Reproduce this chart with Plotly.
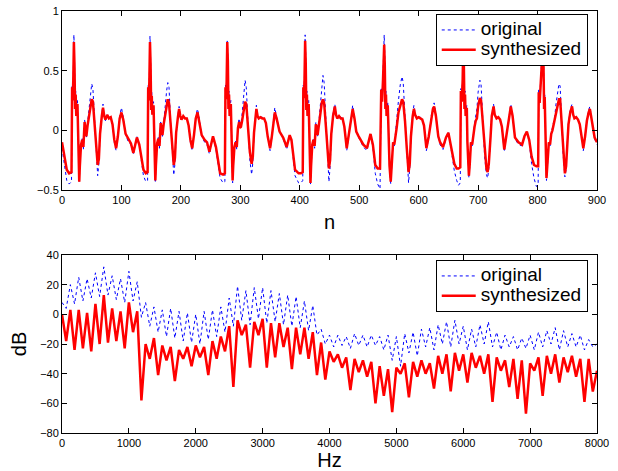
import plotly.graph_objects as go

# ---------------- top panel: time signal (vertices) ----------------
n_pre = [0, 4, 8, 12, 16, 17, 18, 19]
syn_pre = [-0.10, -0.22, -0.33, -0.36, -0.35, 0.36, 0.25, 0.42]
orig_pre = [-0.15, -0.28, -0.42, -0.45, -0.43, 0.38, 0.27, 0.45]

n_p1 = [20, 21, 22, 23, 24, 26, 27, 29, 30, 32, 34, 36, 38, 40, 41, 43, 45, 48, 50, 52,
        55, 58, 60, 62, 64, 67, 69, 71, 73, 76, 79, 82, 85, 88, 91, 94, 97, 100, 103, 107,
        112, 116, 120, 126, 130, 137, 141, 144, 145, 146, 147]
syn_p1 = [0.74, 0.55, 0.18, 0.30, 0.12, 0.22, -0.05, -0.43, -0.30, -0.12, -0.08, -0.14, 0.07, 0.00, -0.05,
          0.04, 0.10, 0.22, 0.26, 0.24, 0.05, -0.20, -0.29, -0.24, -0.03, 0.12, 0.19, 0.12, 0.09, 0.13,
          0.10, 0.11, 0.05, -0.08, -0.15, -0.05, 0.10, 0.15, 0.09, -0.03, -0.08, -0.11, -0.19, -0.06, -0.12,
          -0.33, -0.36, -0.35, 0.36, 0.25, 0.42]
orig_p1 = [0.80, 0.62, 0.20, 0.33, 0.14, 0.25, -0.05, -0.44, -0.32, -0.12, -0.07, -0.16, 0.09, 0.01, -0.06,
           0.06, 0.15, 0.32, 0.39, 0.35, 0.06, -0.26, -0.38, -0.28, -0.05, 0.14, 0.22, 0.12, 0.08, 0.13,
           0.11, 0.11, 0.05, -0.10, -0.17, -0.06, 0.12, 0.19, 0.11, -0.04, -0.10, -0.12, -0.20, -0.05, -0.13,
           -0.38, -0.43, -0.42, 0.38, 0.27, 0.45]

n_p2 = [148, 149, 150, 151, 152, 154, 155, 157, 158, 160, 162, 164, 166, 168, 169, 171, 173, 176, 178, 180,
        183, 186, 188, 190, 192, 195, 197, 199, 201, 204, 207, 210, 213, 216, 219, 222, 225, 228, 231, 235,
        240, 244, 248, 254, 259, 266, 271, 274, 275, 276, 277]
syn_p2 = [0.74, 0.56, 0.17, 0.29, 0.13, 0.21, -0.06, -0.42, -0.29, -0.11, -0.07, -0.13, 0.06, 0.01, -0.04,
          0.05, 0.11, 0.22, 0.26, 0.23, 0.04, -0.19, -0.29, -0.23, -0.02, 0.11, 0.18, 0.12, 0.09, 0.12,
          0.10, 0.10, 0.04, -0.08, -0.15, -0.04, 0.10, 0.15, 0.08, -0.04, -0.08, -0.10, -0.18, -0.05, -0.14,
          -0.36, -0.37, -0.36, 0.36, 0.26, 0.41]
orig_p2 = [0.79, 0.61, 0.19, 0.32, 0.15, 0.24, -0.06, -0.44, -0.31, -0.11, -0.06, -0.15, 0.08, 0.02, -0.05,
           0.07, 0.16, 0.33, 0.40, 0.36, 0.05, -0.27, -0.375, -0.28, -0.04, 0.13, 0.20, 0.12, 0.08, 0.12,
           0.11, 0.10, 0.04, -0.10, -0.17, -0.05, 0.12, 0.18, 0.10, -0.05, -0.10, -0.12, -0.20, -0.05, -0.16,
           -0.40, -0.44, -0.43, 0.38, 0.28, 0.45]

n_p3 = [278, 279, 280, 281, 282, 284, 285, 287, 288, 290, 292, 294, 296, 298, 299, 301, 303, 306, 308, 310,
        313, 316, 319, 321, 323, 325, 327, 329, 331, 334, 337, 340, 343, 346, 350, 353, 356, 358, 361, 366,
        372, 375, 378, 383, 386, 392, 398, 402, 405, 406, 407, 408]
syn_p3 = [0.74, 0.58, 0.18, 0.30, 0.12, 0.22, -0.05, -0.42, -0.30, -0.14, -0.10, -0.14, 0.02, 0.07, 0.02,
          0.03, 0.08, 0.20, 0.24, 0.22, 0.03, -0.18, -0.28, -0.22, -0.02, 0.10, 0.18, 0.12, 0.10, 0.11,
          0.10, 0.10, 0.06, -0.05, -0.15, -0.05, 0.10, 0.15, 0.10, -0.01, -0.06, -0.10, -0.14, -0.04, -0.08,
          -0.33, -0.36, -0.36, -0.35, 0.36, 0.27, 0.43]
orig_p3 = [0.76, 0.62, 0.20, 0.33, 0.14, 0.25, -0.05, -0.44, -0.32, -0.14, -0.09, -0.16, 0.04, 0.10, 0.03,
           0.05, 0.14, 0.33, 0.42, 0.36, 0.04, -0.25, -0.37, -0.27, -0.04, 0.12, 0.21, 0.12, 0.09, 0.11,
           0.11, 0.10, 0.06, -0.06, -0.17, -0.06, 0.12, 0.19, 0.11, -0.01, -0.07, -0.12, -0.16, -0.04, -0.09,
           -0.38, -0.44, -0.44, -0.42, 0.38, 0.29, 0.47]

n_p4 = [409, 410, 411, 412, 413, 415, 416, 418, 419, 421, 423, 425, 427, 429, 430, 432, 434, 437, 439, 441,
        444, 447, 449, 451, 453, 456, 459, 461, 463, 466, 469, 472, 475, 479, 482, 486, 489, 492, 495, 499,
        503, 507, 513, 519, 523, 527, 531, 535, 537, 538.5, 540]
syn_p4 = [0.75, 0.57, 0.17, 0.30, 0.12, 0.22, -0.06, -0.44, -0.30, -0.12, -0.08, -0.13, 0.05, 0.02, -0.04,
          0.05, 0.12, 0.23, 0.26, 0.23, 0.03, -0.22, -0.32, -0.25, -0.03, 0.12, 0.20, 0.13, 0.10, 0.12,
          0.10, 0.10, 0.03, -0.15, -0.05, 0.10, 0.18, 0.10, -0.01, -0.05, -0.09, -0.12, -0.15, -0.03, -0.12,
          -0.29, -0.32, -0.32, 0.34, 0.24, 0.42]
orig_p4 = [0.80, 0.63, 0.19, 0.33, 0.14, 0.25, -0.06, -0.45, -0.32, -0.12, -0.07, -0.15, 0.07, 0.03, -0.05,
           0.08, 0.18, 0.36, 0.46, 0.40, 0.04, -0.32, -0.43, -0.31, -0.05, 0.14, 0.22, 0.13, 0.10, 0.12,
           0.11, 0.10, 0.03, -0.17, -0.06, 0.12, 0.21, 0.12, -0.01, -0.06, -0.10, -0.14, -0.17, -0.03, -0.14,
           -0.36, -0.45, -0.49, 0.36, 0.26, 0.46]

n_p5 = [542, 543, 544, 545, 546, 548, 549, 551, 553, 555, 557, 559, 561, 563, 566, 569, 572, 574, 577, 580,
        583, 585, 587, 590, 592, 594, 597, 600, 603, 606, 609, 613, 617, 621, 624, 626, 629, 633, 636, 641,
        646, 650, 655, 660, 664, 667, 670, 671, 672.5, 674]
syn_p5 = [0.72, 0.55, 0.18, 0.30, 0.12, 0.21, -0.05, -0.30, -0.43, -0.25, -0.10, -0.12, -0.02, 0.02, 0.15,
          0.22, 0.26, 0.24, 0.08, -0.15, -0.35, -0.28, -0.05, 0.12, 0.18, 0.13, 0.10, 0.11, 0.10, 0.09,
          0.04, -0.15, -0.05, 0.10, 0.18, 0.20, 0.12, -0.05, -0.10, -0.14, -0.06, -0.02, -0.15, -0.28, -0.32,
          -0.32, -0.31, 0.33, 0.24, 0.42]
orig_p5 = [0.80, 0.63, 0.20, 0.33, 0.14, 0.24, -0.05, -0.32, -0.45, -0.27, -0.10, -0.13, -0.01, 0.05, 0.25,
           0.38, 0.45, 0.40, 0.10, -0.20, -0.44, -0.32, -0.06, 0.14, 0.21, 0.14, 0.10, 0.11, 0.11, 0.09,
           0.04, -0.17, -0.06, 0.12, 0.20, 0.23, 0.13, -0.06, -0.12, -0.16, -0.07, -0.02, -0.17, -0.34, -0.42,
           -0.46, -0.44, 0.35, 0.26, 0.46]

n_p6 = [675, 676, 677, 678, 679, 681, 682, 684.5, 686, 688, 690, 692, 694, 696, 698, 700, 703, 705, 708, 711,
        714, 716, 718, 721, 723, 726, 728, 731, 734, 737, 740, 744, 748, 752, 755, 758, 762, 768, 774, 778,
        782, 786, 790, 794, 798, 801, 802, 803.5, 805.5]
syn_p6 = [0.72, 0.56, 0.18, 0.30, 0.12, 0.19, -0.10, -0.38, -0.28, -0.10, -0.12, -0.02, 0.03, 0.08, 0.10,
          0.20, 0.27, 0.25, 0.05, -0.18, -0.32, -0.35, -0.28, -0.05, 0.12, 0.20, 0.13, 0.10, 0.11, 0.09,
          0.03, -0.16, -0.02, 0.12, 0.20, 0.12, -0.06, -0.10, -0.12, -0.05, -0.01, -0.08, -0.22, -0.29, -0.30,
          -0.30, 0.32, 0.23, 0.42]
orig_p6 = [0.80, 0.63, 0.20, 0.33, 0.14, 0.21, -0.10, -0.40, -0.30, -0.10, -0.13, -0.01, 0.05, 0.12, 0.18,
           0.32, 0.42, 0.38, 0.07, -0.22, -0.37, -0.40, -0.32, -0.06, 0.14, 0.22, 0.13, 0.10, 0.11, 0.09,
           0.03, -0.18, -0.02, 0.14, 0.22, 0.13, -0.07, -0.12, -0.13, -0.05, -0.01, -0.10, -0.28, -0.40, -0.47,
           -0.46, 0.35, 0.25, 0.46]

n_p7 = [809, 810, 811, 812, 813, 815, 817, 819, 821, 823, 825, 827, 829, 831, 834, 836, 838, 840, 843, 846,
        848, 850, 852, 855, 858, 860, 862, 865, 868, 871, 874, 877, 880, 883, 886, 888, 890, 893, 896, 900]
syn_p7 = [0.72, 0.55, 0.18, 0.28, 0.10, -0.40, -0.25, -0.10, -0.12, -0.03, 0.00, 0.05, 0.08, 0.15, 0.22,
          0.26, 0.26, 0.12, -0.15, -0.36, -0.30, -0.10, 0.05, 0.15, 0.20, 0.13, 0.10, 0.11, 0.09, 0.05,
          -0.05, -0.15, -0.05, 0.08, 0.15, 0.18, 0.12, 0.02, -0.06, -0.10]
orig_p7 = [0.80, 0.62, 0.20, 0.31, 0.12, -0.42, -0.27, -0.10, -0.13, -0.02, 0.02, 0.07, 0.12, 0.22, 0.33,
           0.39, 0.37, 0.15, -0.20, -0.39, -0.33, -0.11, 0.06, 0.17, 0.22, 0.14, 0.10, 0.11, 0.09, 0.05,
           -0.06, -0.17, -0.06, 0.10, 0.17, 0.20, 0.13, 0.02, -0.07, -0.12]

# ---------------- bottom panel: spectra (dB) ----------------
f_hz = [0, 62.5, 125, 187.5, 250, 312.5, 375, 437.5, 500, 562.5, 625, 687.5, 750, 812.5, 875, 937.5,
        1000, 1062.5, 1125, 1187.5, 1250, 1312.5, 1375, 1437.5, 1500, 1562.5, 1625, 1687.5, 1750, 1812.5,
        1875, 1937.5, 2000, 2062.5, 2125, 2187.5, 2250, 2312.5, 2375, 2437.5, 2500, 2562.5, 2625, 2687.5,
        2750, 2812.5, 2875, 2937.5, 3000, 3062.5, 3125, 3187.5, 3250, 3312.5, 3375, 3437.5, 3500, 3562.5,
        3625, 3687.5, 3750, 3812.5, 3875, 3937.5, 4000, 4062.5, 4125, 4187.5, 4250, 4312.5, 4375, 4437.5,
        4500, 4562.5, 4625, 4687.5, 4750, 4812.5, 4875, 4937.5, 5000, 5062.5, 5125, 5187.5, 5250, 5312.5,
        5375, 5437.5, 5500, 5562.5, 5625, 5687.5, 5750, 5812.5, 5875, 5937.5, 6000, 6062.5, 6125, 6187.5,
        6250, 6312.5, 6375, 6437.5, 6500, 6562.5, 6625, 6687.5, 6750, 6812.5, 6875, 6937.5, 7000, 7062.5,
        7125, 7187.5, 7250, 7312.5, 7375, 7437.5, 7500, 7562.5, 7625, 7687.5, 7750, 7812.5, 7875, 7937.5, 8000]
orig_db = [8, 4, 20, 7, 25, 9, 24, 11, 28, 12, 32, 13, 26, 10, 24, 8, 29, 9, 22, -2,
           8, -8, 5, -12, 3, -15, 4, -16, 2, -18, 1, -19, 0, -20, 2, -17, 3, -15, 5, -12,
           11, -8, 19, -4, 16, -7, 18, -3, 18, -6, 16, -5, 14, -7, 13, -8, 12, -9, 9, -11,
           6, -14, -10, -20, -14, -22, -14, -21, -15, -23, -13, -21, -14, -22, -14, -21, -15, -24, -14, -31,
           -15, -35, -13, -26, -12, -28, -10, -22, -9, -24, -7, -20, -5, -22, -4, -20, -8, -24, -10, -22,
           -7, -20, -5, -22, -12, -24, -14, -22, -15, -24, -16, -23, -14, -24, -12, -22, -11, -20, -9, -24,
           -11, -22, -13, -22, -14, -24, -17, -22, -20]
syn_db = [0, -18, 3, -24, 3, -23, 1, -25, 7, -20, 13, -19, 4, -18, 2, -23, 8, -12, 2, -58,
          -20, -30, -16, -41, -21, -31, -22, -45, -24, -30, -22, -35, -21, -29, -22, -41, -18, -30, -15, -25,
          -8, -49, -4, -14, -7, -36, -5, -14, -3, -36, -6, -29, -6, -22, -9, -37, -9, -27, -9, -30,
          -12, -41, -19, -44, -25, -32, -27, -36, -29, -51, -30, -39, -31, -42, -32, -60, -35, -55, -37, -66,
          -36, -40, -33, -56, -32, -42, -31, -40, -33, -50, -28, -40, -27, -52, -26, -38, -27, -46, -26, -36,
          -28, -40, -27, -59, -29, -38, -31, -49, -30, -57, -31, -67, -33, -38, -29, -55, -28, -40, -27, -46,
          -29, -39, -28, -42, -30, -59, -30, -52, -38]

legend_names = ["original", "synthesized"]

n_top = n_pre + n_p1 + n_p2 + n_p3 + n_p4 + n_p5 + n_p6 + n_p7
syn_top = syn_pre + syn_p1 + syn_p2 + syn_p3 + syn_p4 + syn_p5 + syn_p6 + syn_p7
orig_top = orig_pre + orig_p1 + orig_p2 + orig_p3 + orig_p4 + orig_p5 + orig_p6 + orig_p7
assert len(n_top) == len(syn_top) == len(orig_top), (len(n_top), len(syn_top), len(orig_top))
assert len(f_hz) == len(orig_db) == len(syn_db), (len(f_hz), len(orig_db), len(syn_db))

BLUE = "#0000ff"
RED = "#ff0000"
FONT = "Liberation Sans, Arial, Helvetica, sans-serif"


def leg(name):
    # legend text drawn larger than the legend's own (row-height) font size
    return '<span style="font-size:19px">' + name + "</span>"


fig = go.Figure()
fig.add_trace(go.Scatter(x=n_top, y=orig_top, mode="lines", name=leg(legend_names[0]),
                         line=dict(color=BLUE, width=1, dash="dot"),
                         xaxis="x", yaxis="y", legend="legend"))
fig.add_trace(go.Scatter(x=n_top, y=syn_top, mode="lines", name=leg(legend_names[1]),
                         line=dict(color=RED, width=2.5),
                         xaxis="x", yaxis="y", legend="legend"))
fig.add_trace(go.Scatter(x=f_hz, y=orig_db, mode="lines", name=leg(legend_names[0]),
                         line=dict(color=BLUE, width=1, dash="dot"),
                         xaxis="x2", yaxis="y2", legend="legend2"))
fig.add_trace(go.Scatter(x=f_hz, y=syn_db, mode="lines", name=leg(legend_names[1]),
                         line=dict(color=RED, width=2.5),
                         xaxis="x2", yaxis="y2", legend="legend2"))

axis_common = dict(showgrid=False, zeroline=False, showline=True, linecolor="black", linewidth=1,
                   mirror="ticks", ticks="inside", ticklen=5, tickcolor="black", automargin=False,
                   ticklabeloverflow="allow",
                   tickfont=dict(family=FONT, size=11, color="black"))

# plot areas (page px): top 11..190, bottom 255..433, x 62..597
TOP_DOM = [0.5758, 1.0]
BOT_DOM = [0.0, 0.4218]

legend_common = dict(xref="paper", yref="paper", xanchor="right", yanchor="top",
                     bgcolor="white", bordercolor="black", borderwidth=1,
                     font=dict(family=FONT, size=13, color="black"), tracegroupgap=0,
                     itemwidth=34)

fig.update_layout(
    width=618, height=471,
    margin=dict(l=62, r=21, t=11, b=38),
    paper_bgcolor="white", plot_bgcolor="white",
    font=dict(family=FONT, color="black"),
    xaxis=dict(axis_common, domain=[0, 1], anchor="y", range=[0, 900],
               tickvals=[0, 100, 200, 300, 400, 500, 600, 700, 800, 900],
               title=dict(text="n", font=dict(family=FONT, size=20), standoff=9)),
    yaxis=dict(axis_common, domain=TOP_DOM, anchor="x", range=[-0.5, 1],
               tickvals=[-0.5, 0, 0.5, 1], ticktext=["\u22120.5", "0", "0.5", "1"]),
    xaxis2=dict(axis_common, domain=[0, 1], anchor="y2", range=[0, 8000],
                tickvals=[0, 1000, 2000, 3000, 4000, 5000, 6000, 7000, 8000],
                title=dict(text="Hz", font=dict(family=FONT, size=20), standoff=6)),
    yaxis2=dict(axis_common, domain=BOT_DOM, anchor="x2", range=[-80, 40],
                tickvals=[-80, -60, -40, -20, 0, 20, 40],
                ticktext=["\u221280", "\u221260", "\u221240", "\u221220", "0", "20", "40"],
                title=dict(text="dB", font=dict(family=FONT, size=20), standoff=8)),
    legend=dict(legend_common, x=0.9827, y=0.9929),
    legend2=dict(legend_common, x=0.9827, y=0.4100),
)

# remove the browser's default 8px body margin so the 618x471 figure fills the window
fig.write_html("out.html", config={"displayModeBar": False},
               post_script="document.body.style.margin='0';")
